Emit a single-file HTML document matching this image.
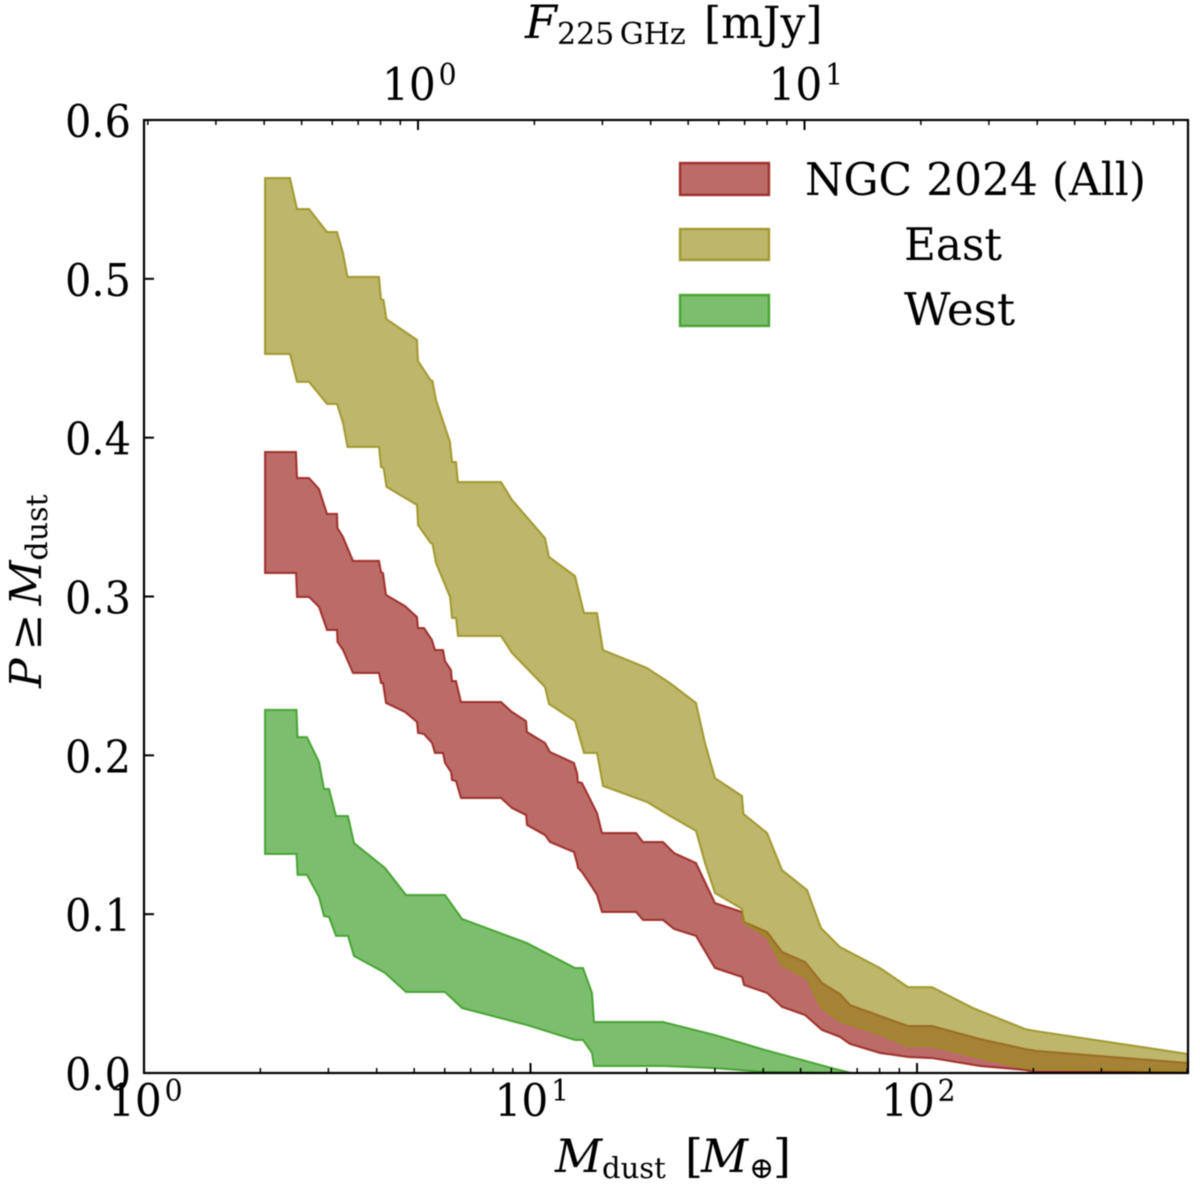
<!DOCTYPE html>
<html lang="en">
<head>
<meta charset="utf-8">
<title>Cumulative disk dust mass distribution</title>
<style>
  html, body { margin: 0; padding: 0; background: #fff; }
  svg { display: block; filter: blur(0.45px); }
  text { font-family: "DejaVu Serif", "Liberation Serif", serif; fill: #000; }
  .tick { font-size: 45px; }
  .sup { font-size: 30px; }
  .label { font-size: 46px; }
  .sub { font-size: 30px; }
  .it { font-style: italic; }
  .legend-text { font-size: 45px; }
</style>
</head>
<body>
<svg id="chart" xmlns="http://www.w3.org/2000/svg" width="1200" height="1186" viewBox="0 0 1200 1186">
  <rect x="0" y="0" width="1200" height="1186" fill="#ffffff"/>
  <g id="bands"></g>
  <g id="ticks"></g>
  <g id="ticklabels"></g>
  <rect x="144" y="120" width="1044" height="953" fill="none" stroke="#000" stroke-width="2.2"/>

  <text class="label" x="525" y="38"><tspan class="it">F</tspan><tspan class="sub" x="557" dy="6" style="word-spacing:-4px">225 GHz</tspan><tspan x="704" dy="-6" style="font-size:44px">[mJy]</tspan></text>
  <text class="label" x="555" y="1172"><tspan class="it">M</tspan><tspan class="sub" x="602" dy="6" style="font-size:29px">dust</tspan><tspan x="685" dy="-6">[</tspan><tspan class="it" x="701">M</tspan><tspan class="sub" x="749" dy="6">⊕</tspan><tspan x="773" dy="-6">]</tspan></text>
  <text class="label" style="font-size:44px" transform="translate(41,688) rotate(-90)"><tspan class="it">P</tspan><tspan dx="8">≥</tspan><tspan class="it" dx="8">M</tspan><tspan class="sub" dy="6">dust</tspan></text>

  <g>
    <rect x="680" y="163" width="89" height="32" fill="rgb(150,28,23)" fill-opacity="0.65" stroke="rgb(150,28,23)" stroke-opacity="0.85" stroke-width="2.4"/>
    <text class="legend-text" x="805" y="195" textLength="341" lengthAdjust="spacingAndGlyphs">NGC 2024 (All)</text>
    <rect x="680" y="229" width="89" height="31" fill="rgb(153,143,27)" fill-opacity="0.65" stroke="rgb(153,143,27)" stroke-opacity="0.85" stroke-width="2.4"/>
    <text class="legend-text" x="904" y="260" textLength="98" lengthAdjust="spacingAndGlyphs">East</text>
    <rect x="680" y="295" width="89" height="31" fill="rgb(55,155,32)" fill-opacity="0.65" stroke="rgb(55,155,32)" stroke-opacity="0.85" stroke-width="2.4"/>
    <text class="legend-text" x="904" y="325" textLength="111" lengthAdjust="spacingAndGlyphs">West</text>
  </g>
</svg>
<script>
// Mass grid stored as log10(M_dust / M_earth); probabilities as P(>= M_dust).
const allLogMass = [0.3131,0.3933,0.3959,0.4269,0.4528,0.4735,0.4993,0.5006,0.5149,0.5407,0.6080,0.6132,0.6184,0.6261,0.6753,0.7063,0.7089,0.7244,0.7451,0.7529,0.7736,0.7788,0.7943,0.7969,0.8072,0.8202,0.9237,0.9521,0.9884,0.9909,1.0375,1.0504,1.1125,1.1203,1.1229,1.1332,1.1591,1.1720,1.1850,1.2730,1.2911,1.3428,1.3713,1.4282,1.4773,1.5472,1.5524,1.6119,1.6507,1.7102,1.7542,1.8008,1.8266,1.9043,1.9767,2.0388,2.1630,2.2794,2.3079,2.7011];
const allUpper = [0.3910,0.3910,0.3746,0.3746,0.3677,0.3520,0.3520,0.3431,0.3375,0.3224,0.3224,0.3154,0.3148,0.3010,0.2940,0.2871,0.2802,0.2802,0.2726,0.2663,0.2663,0.2594,0.2537,0.2468,0.2468,0.2336,0.2336,0.2273,0.2216,0.2147,0.2078,0.2021,0.1952,0.1889,0.1832,0.1826,0.1700,0.1637,0.1511,0.1511,0.1454,0.1454,0.1385,0.1322,0.1070,0.1014,0.0951,0.0888,0.0762,0.0699,0.0567,0.0497,0.0428,0.0359,0.0296,0.0296,0.0214,0.0151,0.0139,0.0063];
const allLower = [0.3148,0.3148,0.2997,0.2997,0.2934,0.2789,0.2789,0.2714,0.2663,0.2518,0.2518,0.2455,0.2455,0.2330,0.2273,0.2210,0.2141,0.2134,0.2078,0.2015,0.2015,0.1952,0.1895,0.1845,0.1838,0.1731,0.1731,0.1668,0.1624,0.1561,0.1498,0.1454,0.1391,0.1322,0.1291,0.1265,0.1171,0.1121,0.1014,0.1014,0.0963,0.0963,0.0907,0.0863,0.0661,0.0604,0.0554,0.0504,0.0416,0.0365,0.0271,0.0227,0.0183,0.0126,0.0101,0.0094,0.0044,0.0019,0.0006,0.0006];

const eastLogMass = [0.3131,0.3777,0.3959,0.4269,0.4735,0.4993,0.5149,0.5265,0.6080,0.6132,0.6197,0.6274,0.7063,0.7089,0.7413,0.7464,0.7555,0.7917,0.7969,0.8072,0.8124,0.9237,0.9521,1.0375,1.0479,1.1151,1.1384,1.1720,1.1876,1.3014,1.3609,1.4282,1.4515,1.4773,1.5472,1.5511,1.6119,1.6507,1.7154,1.7516,1.8008,1.9043,1.9767,2.0388,2.1449,2.2794,2.3079,2.7011];
const eastUpper = [0.5635,0.5635,0.5440,0.5440,0.5295,0.5295,0.5163,0.5012,0.5012,0.4873,0.4867,0.4747,0.4615,0.4483,0.4363,0.4357,0.4237,0.3973,0.3847,0.3847,0.3721,0.3721,0.3608,0.3368,0.3249,0.3129,0.2896,0.2896,0.2663,0.2550,0.2455,0.2330,0.2078,0.1857,0.1744,0.1631,0.1511,0.1278,0.1152,0.0913,0.0793,0.0661,0.0541,0.0541,0.0409,0.0277,0.0264,0.0120];
const eastLower = [0.4527,0.4527,0.4351,0.4351,0.4212,0.4212,0.4092,0.3941,0.3941,0.3815,0.3809,0.3690,0.3576,0.3450,0.3337,0.3331,0.3211,0.2997,0.2865,0.2865,0.2751,0.2751,0.2644,0.2430,0.2323,0.2216,0.2015,0.2015,0.1807,0.1706,0.1618,0.1524,0.1322,0.1133,0.1033,0.0951,0.0856,0.0680,0.0598,0.0416,0.0327,0.0246,0.0170,0.0170,0.0107,0.0031,0.0025,0.0013];

const westLogMass = [0.3131,0.3946,0.3972,0.4217,0.4528,0.4657,0.4787,0.4968,0.5278,0.5433,0.6235,0.6779,0.7788,0.8228,0.9909,1.1151,1.1358,1.1591,1.1643,1.3428,1.4773,1.6067,1.7801,1.8292];
const westUpper = [0.2286,0.2286,0.2115,0.2115,0.1958,0.1788,0.1788,0.1618,0.1618,0.1448,0.1291,0.1121,0.1121,0.0970,0.0818,0.0661,0.0661,0.0504,0.0321,0.0321,0.0239,0.0145,0.0031,0.0000];
const westLower = [0.1379,0.1379,0.1247,0.1247,0.1108,0.0988,0.0982,0.0863,0.0863,0.0737,0.0630,0.0510,0.0510,0.0409,0.0302,0.0208,0.0208,0.0126,0.0044,0.0044,0.0031,0.0006,0.0000,0.0000];

const yTickValues = [0.0, 0.1, 0.2, 0.3, 0.4, 0.5, 0.6];
const yTickLabels = ["0.0", "0.1", "0.2", "0.3", "0.4", "0.5", "0.6"];
const bottomDecades = [0, 1, 2];
const topDecades = [0, 1];
const minorMultipliers = [2, 3, 4, 5, 6, 7, 8, 9];

const SVGNS = "http://www.w3.org/2000/svg";
const plot = { left: 144, right: 1188, top: 120, bottom: 1073 };
const xMaxLog = 2.7011;
const yMax = 0.6;
const topAxisZero = 418;
const decadePx = (plot.right - plot.left) / xMaxLog;

function xScale(logM) { return plot.left + logM * decadePx; }
function yScale(p) { return plot.bottom - (p / yMax) * (plot.bottom - plot.top); }
function topScale(logF) { return topAxisZero + logF * decadePx; }

function make(tag, attrs, parent) {
  const el = document.createElementNS(SVGNS, tag);
  for (const k in attrs) el.setAttribute(k, attrs[k]);
  parent.appendChild(el);
  return el;
}

function bandPath(logMass, upper, lower) {
  const up = logMass.map((m, i) => xScale(m).toFixed(2) + " " + yScale(upper[i]).toFixed(2));
  const lo = logMass.map((m, i) => xScale(m).toFixed(2) + " " + yScale(lower[i]).toFixed(2)).reverse();
  return "M" + up.join("L") + "L" + lo.join("L") + "Z";
}

const bands = document.getElementById("bands");

const allBand = make("path", { d: bandPath(allLogMass, allUpper, allLower), fill: "rgb(150,28,23)", "fill-opacity": 0.65, stroke: "rgb(150,28,23)", "stroke-opacity": 0.85, "stroke-width": 2 }, bands);



const eastBand = make("path", { d: bandPath(eastLogMass, eastUpper, eastLower), fill: "rgb(153,143,27)", "fill-opacity": 0.65, stroke: "rgb(153,143,27)", "stroke-opacity": 0.85, "stroke-width": 2 }, bands);



const westBand = make("path", { d: bandPath(westLogMass, westUpper, westLower), fill: "rgb(55,155,32)", "fill-opacity": 0.65, stroke: "rgb(55,155,32)", "stroke-opacity": 0.85, "stroke-width": 2 }, bands);



const ticks = document.getElementById("ticks");
const labels = document.getElementById("ticklabels");

function tickLine(x1, y1, x2, y2, w, name) {
  const t = make("line", { x1: x1, y1: y1, x2: x2, y2: y2, stroke: "#000", "stroke-width": w }, ticks);
  
  
}

yTickValues.forEach((v, i) => {
  const y = yScale(v);
  if (i > 0 && i < yTickValues.length - 1) tickLine(plot.left, y, plot.left + 10, y, 2, "y-tick");
  const t = make("text", { class: "tick", x: 65, y: y + 17, textLength: 66, lengthAdjust: "spacingAndGlyphs" }, labels);
  
  
  t.textContent = yTickLabels[i];
});

function powerLabel(cx, baseline, exp, name) {
  const t = make("text", { class: "tick", transform: "translate(" + (cx - 36) + "," + baseline + ") scale(0.94,1)" }, labels);
  
  
  const base = make("tspan", {}, t);
  base.textContent = "10";
  const sup = make("tspan", { class: "sup", dy: -15, dx: 3 }, t);
  sup.textContent = String(exp);
}

bottomDecades.forEach((d) => {
  const x = xScale(d);
  if (d > 0) tickLine(x, plot.bottom, x, plot.bottom - 10, 2, "x-major-tick");
  powerLabel(x, 1116, d, "x-tick-label");
  minorMultipliers.forEach((m) => {
    const mx = xScale(d + Math.log10(m));
    if (mx < plot.right) tickLine(mx, plot.bottom, mx, plot.bottom - 5, 1.5, "x-minor-tick");
  });
});

topDecades.forEach((d) => {
  const x = topScale(d);
  tickLine(x, plot.top, x, plot.top + 10, 2, "top-major-tick");
  powerLabel(x, 100, d, "top-tick-label");
});
[-1, 0, 1].forEach((d) => {
  minorMultipliers.forEach((m) => {
    const mx = topScale(d + Math.log10(m));
    if (mx > plot.left && mx < plot.right) tickLine(mx, plot.top, mx, plot.top + 5, 1.5, "top-minor-tick");
  });
});
</script>
</body>
</html>
